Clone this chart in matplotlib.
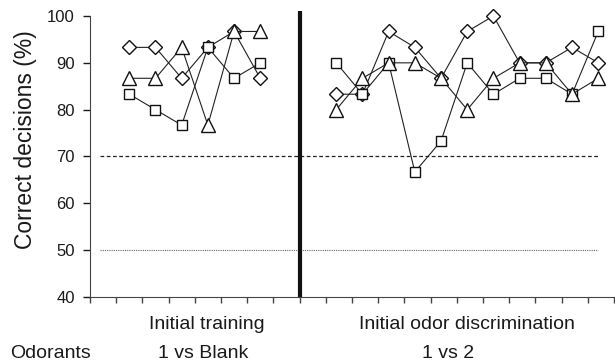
import numpy as np
import matplotlib
matplotlib.use("Agg")
import matplotlib.pyplot as plt

plt.rcParams['font.family'] = ['Liberation Sans', 'DejaVu Sans']

# sessions (x positions) for the two phases
x_train = [1.5, 2.5, 3.5, 4.5, 5.5, 6.5]
x_disc = [9.4, 10.4, 11.4, 12.4, 13.4, 14.4, 15.4, 16.4, 17.4, 18.4, 19.4]

# correct decisions (%) per animal
diam_train = [93.3, 93.3, 86.7, 93.3, 96.7, 86.7]
tri_train = [86.7, 86.7, 93.3, 76.7, 96.7, 96.7]
sq_train = [83.3, 80.0, 76.7, 93.3, 86.7, 90.0]

diam_disc = [83.3, 83.3, 96.7, 93.3, 86.7, 96.7, 100.0, 90.0, 90.0, 93.3, 90.0]
tri_disc = [80.0, 86.7, 90.0, 90.0, 86.7, 80.0, 86.7, 90.0, 90.0, 83.3, 86.7]
sq_disc = [90.0, 83.3, 90.0, 66.7, 73.3, 90.0, 83.3, 86.7, 86.7, 83.3, 96.7]

yticks = [40, 50, 60, 70, 80, 90, 100]
criterion = 70
chance = 50
phase_split = 8

fig = plt.figure(figsize=(6.15, 3.62), dpi=100)
ax = fig.add_axes([0.1463, 0.1796, 0.852, 0.7956])

ax.axhline(criterion, xmin=0.4 / 20, xmax=19.4 / 20, color='#222222', lw=0.9, ls=(0, (3, 2)))
ax.axhline(chance, xmin=0.4 / 20, xmax=19.4 / 20, color='#666666', lw=0.8, ls=(0, (1, 1)))
ax.plot([phase_split, phase_split], [40, 101], color='#111111', lw=3.0, solid_capstyle='butt')

style = dict(color='#222222', lw=0.8, mfc='white', mec='#111111', mew=1.0)
for xs, d, t, s in [(x_train, diam_train, tri_train, sq_train),
                    (x_disc, diam_disc, tri_disc, sq_disc)]:
    ax.plot(xs, d, marker='D', ms=7, **style)
    ax.plot(xs, s, marker='s', ms=7.5, **style)
    ax.plot(xs, t, marker='^', ms=9.5, **style)

ax.set_xlim(0, 20)
ax.set_ylim(40, 101.5)
ax.set_xticks(np.arange(0, 21))
ax.set_xticklabels([])
ax.set_yticks(yticks)
ax.tick_params(axis='y', direction='out', length=5, width=1.0, pad=6, labelsize=12,
               colors='#1a1a1a')
ax.tick_params(axis='x', direction='out', length=4, width=1.0, colors='#444444')
for sp in ['top', 'right']:
    ax.spines[sp].set_visible(False)
ax.spines['left'].set_bounds(40, 100)
ax.spines['left'].set_color('#444444')
ax.spines['bottom'].set_color('#444444')

txt = dict(fontsize=14, color='#1a1a1a', va='baseline')
fig.text(0.042, 0.613, 'Correct decisions (%)', rotation=90, ha='center', va='center',
         fontsize=16.5, color='#1a1a1a')
fig.text(0.336, 0.0898, 'Initial training', ha='center', **txt)
fig.text(0.759, 0.0898, 'Initial odor discrimination', ha='center', **txt)
fig.text(0.016, 0.0119, 'Odorants', ha='left', **txt)
fig.text(0.330, 0.0119, '1 vs Blank', ha='center', **txt)
fig.text(0.728, 0.0119, '1 vs 2', ha='center', **txt)

fig.savefig('out.png', dpi=100)
